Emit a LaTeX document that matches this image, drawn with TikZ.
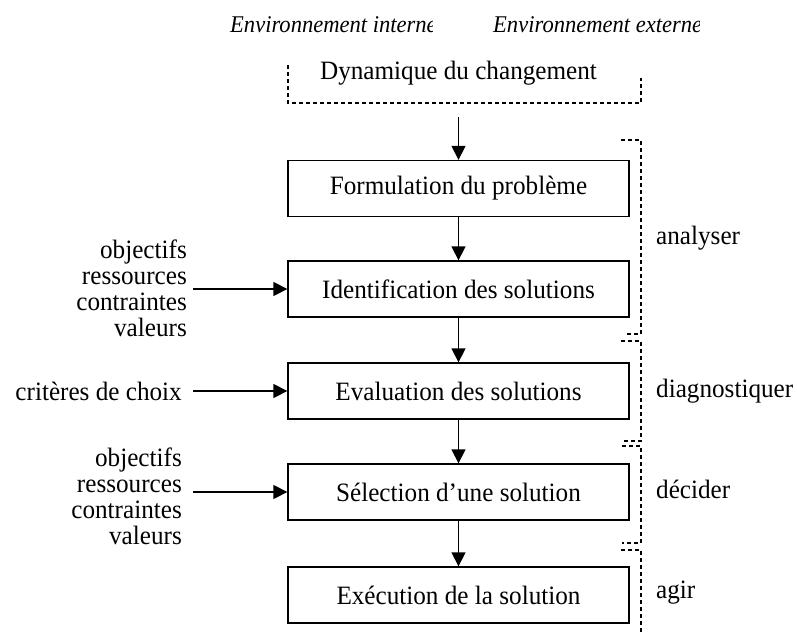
\documentclass[tikz,border=0pt]{standalone}
\usepackage{fontspec}
\setmainfont{Liberation Serif}[FakeStretch=0.95]
\newfontfamily\envfont{Liberation Serif}[FakeStretch=0.94]
\usetikzlibrary{arrows.meta}
\begin{document}
\begin{tikzpicture}[x=1pt,y=-1pt,
  every node/.style={font=\fontsize{26.5}{26}\selectfont, inner sep=0pt},
  stage/.style={draw, line width=1.3pt, minimum width=341pt, minimum height=56pt},
  flow/.style={line width=1.3pt, -{Triangle[length=14pt,width=14pt]}},
  bracket/.style={line width=1.2pt, dash pattern=on 4pt off 3pt},
  envtext/.style={font=\envfont\fontsize{24}{26}\selectfont\itshape, anchor=base west},
  sidelabel/.style={anchor=base west},
  inputs/.style={align=right, anchor=east}]
\useasboundingbox (0,0) rectangle (797,632);

% top labels (clipped)
\begin{scope}
  \clip (228,0) rectangle (432,50);
  \node[envtext] (envint) at (230,32) {Environnement interne};
\end{scope}
\begin{scope}
  \clip (491,0) rectangle (699,50);
  \node[envtext] (envext) at (493,32) {Environnement externe};
\end{scope}

% dynamics
\node (dyn) at (458.5,73) {Dynamique du changement};
\draw[bracket] (288,65) -- (288,103) -- (641,103) -- (641,78);
\coordinate (dynout) at (458.5,117);

% stages
\node[stage] (b1) at (458.5,188.5) {Formulation du problème};
\node[stage] (b2) at (458.5,289) {Identification des solutions};
\node[stage] (b3) at (458.5,391) {Evaluation des solutions};
\node[stage] (b4) at (458.5,492) {Sélection d’une solution};
\node[stage] (b5) at (458.5,595) {Exécution de la solution};

\draw[flow] (dynout) -- (b1.north);
\draw[flow] (b1.south) -- (b2.north);
\draw[flow] (b2.south) -- (b3.north);
\draw[flow] (b3.south) -- (b4.north);
\draw[flow] (b4.south) -- (b5.north);

% inputs
\node[inputs] (in1) at (187,288) {objectifs\\ressources\\contraintes\\valeurs};
\node[anchor=east] (crit) at (182,391) {critères de choix};
\node[inputs] (in2) at (182,496) {objectifs\\ressources\\contraintes\\valeurs};

\draw[flow] ([xshift=6pt]in1.east |- b2.west) -- (b2.west);
\draw[flow] ([xshift=11pt]crit.east |- b3.west) -- (b3.west);
\draw[flow] ([xshift=11pt]in2.east |- b4.west) -- (b4.west);

% right brackets
\draw[bracket] (621,140) -- (641,140) -- (641,334) -- (625,334);
\draw[bracket] (621,341) -- (641,341) -- (641,441) -- (622,441);
\draw[bracket] (622,446) -- (641,446) -- (641,543) -- (622,543);
\draw[bracket] (621,550) -- (641,550) -- (641,632);

\node[sidelabel] (l1) at (656,244) {analyser};
\node[sidelabel] (l2) at (656,397) {diagnostiquer};
\node[sidelabel] (l3) at (656,498) {décider};
\node[sidelabel] (l4) at (656,598) {agir};
\end{tikzpicture}
\end{document}
